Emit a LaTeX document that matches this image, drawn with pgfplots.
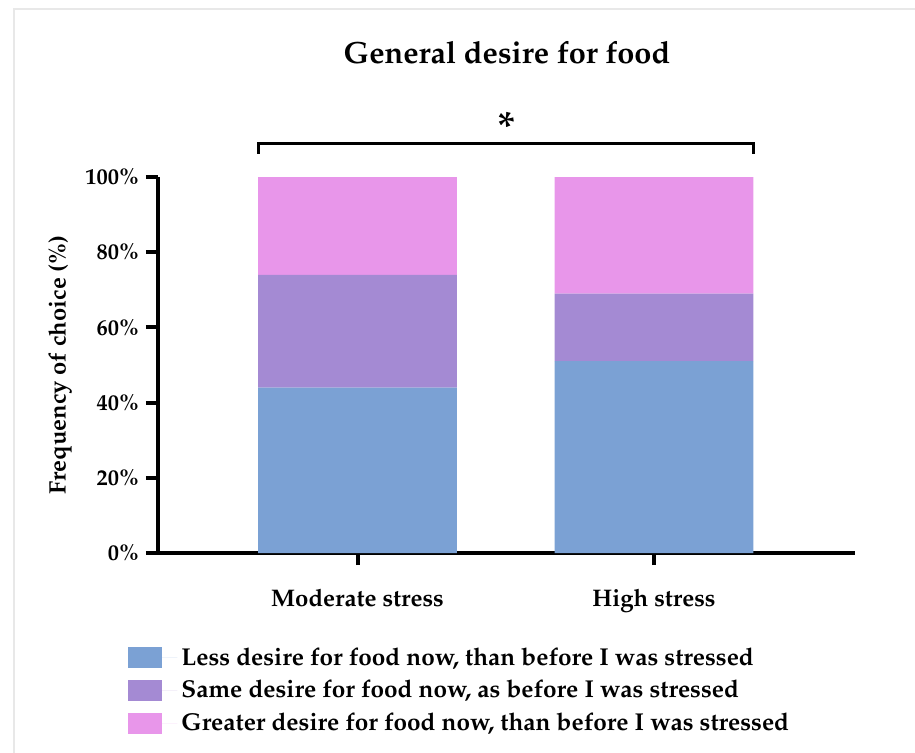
\documentclass[border=0pt]{standalone}
\usepackage[T1]{fontenc}
\usepackage{mathpazo}
\usepackage{pgfplots}
\pgfplotsset{compat=1.18}
\definecolor{cblue}{RGB}{123,161,212}
\definecolor{cpurple}{RGB}{164,138,211}
\definecolor{cpink}{RGB}{232,150,234}
\definecolor{frame}{RGB}{232,232,232}
\begin{document}
\begin{tikzpicture}[x=1pt,y=1pt]
\useasboundingbox (0,0) rectangle (457.5,-376.5);
\draw[frame,line width=1.2pt] (7,-376.5) -- (7,-4.5) -- (457.5,-4.5);
\node[font=\fontsize{15.35}{17}\selectfont\bfseries] at (253.5,-26.5) {General desire for food};
\begin{axis}[
  at={(79pt,-276.5pt)}, anchor=south west,
  scale only axis, width=348.5pt, height=188pt,
  xmin=-0.673, xmax=1.678, ymin=0, ymax=100,
  axis x line=bottom, axis y line=left,
  axis line style={-, line width=2pt, black},
  every tick/.style={black, line width=2pt},
  major tick length=6pt, tick align=outside,
  xtick={0,1}, xticklabels={Moderate stress, High stress},
  ytick={0,20,40,60,80,100},
  yticklabel={\pgfmathprintnumber{\tick}\%},
  /pgf/number format/assume math mode=true,
  yticklabel style={font=\fontsize{11.2}{13}\selectfont\bfseries},
  xticklabel style={font=\fontsize{12}{14}\selectfont\bfseries, yshift=-8.5pt},
  ylabel={Frequency of choice (\%)},
  ylabel style={font=\fontsize{11.9}{13}\selectfont\bfseries, at={(rel axis cs:-0.1406,0.5)}, anchor=center},
  ybar stacked, bar width=0.671,
  clip=false,
  legend style={draw=none, fill=none, at={(rel axis cs:-0.043,-0.24)}, anchor=north west,
    font=\fontsize{12.2}{14}\selectfont\bfseries, row sep=2pt, inner sep=0pt,
    nodes={inner sep=2pt}},
  legend cell align=left,
  legend image code/.code={\fill[#1] (0pt,-5.25pt) rectangle (17pt,5.25pt); \path (0pt,0pt) -- (24.5pt,0pt);},
]
\addplot[fill=cblue, draw=none] coordinates {(0,44) (1,51)};
\addlegendentry{Less desire for food now, than before I was stressed}
\addplot[fill=cpurple, draw=none] coordinates {(0,30) (1,18)};
\addlegendentry{Same desire for food now, as before I was stressed}
\addplot[fill=cpink, draw=none] coordinates {(0,26) (1,31)};
\addlegendentry{Greater desire for food now, than before I was stressed}
\draw[line width=1.5pt, black] (axis cs:-0.3355,106.2) -- (axis cs:-0.3355,108.8) -- (axis cs:1.3355,108.8) -- (axis cs:1.3355,106.2);
\node[font=\fontsize{21}{21}\selectfont\bfseries] at (axis cs:0.504,113.3) {*};
\end{axis}
\end{tikzpicture}
\end{document}
